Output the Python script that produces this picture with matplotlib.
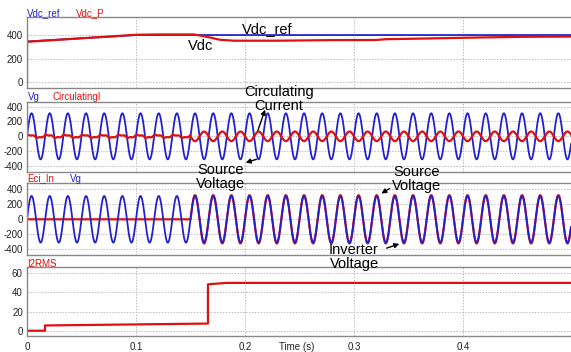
import numpy as np
import matplotlib
matplotlib.use("Agg")
import matplotlib.pyplot as plt

plt.rcParams['font.family'] = ['Liberation Sans', 'DejaVu Sans']
plt.rcParams['axes.unicode_minus'] = False

# ---------------- data ----------------
# Panel 1: DC link voltage (breakpoints)
vdc_ref_t = [0.0, 0.0, 0.1, 0.5]
vdc_ref_v = [0.0, 345.0, 400.0, 400.0]
vdc_p_t = [0.0, 0.0, 0.1, 0.12, 0.153, 0.165, 0.177, 0.19, 0.23, 0.28, 0.32,
           0.33, 0.35, 0.385, 0.42, 0.455, 0.5]
vdc_p_v = [0.0, 343.0, 402.0, 405.0, 405.0, 385.0, 360.0, 352.0, 352.0, 357.0,
           358.0, 365.0, 368.0, 374.0, 380.0, 385.0, 387.0]

# Grid / waveform parameters
grid_freq = 60.0          # Hz
vg_amp = 311.0            # source voltage peak
eci_amp = 322.0           # inverter voltage peak (after connection)
connect_time = 0.15       # s, converter starts
circ_pre_amps = [18.0, 7.0]      # fundamental, 3rd harmonic before connection
circ_pre_phases = [0.6, 1.2]
circ_post_amp = 65.0      # circulating current peak after connection

# Panel 4: I2RMS (breakpoints)
i2rms_t = [0.0, 0.0165, 0.0165, 0.166, 0.166, 0.183, 0.5]
i2rms_v = [0.0, 0.0, 5.5, 7.5, 48.5, 50.0, 50.0]

# Text
panel_labels = [[("Vdc_ref", "#2222cc"), ("Vdc_P", "#e01010")],
                [("Vg", "#2222cc"), ("CirculatingI", "#e01010")],
                [("Eci_In", "#e01010"), ("Vg", "#2222cc")],
                [("I2RMS", "#e01010")]]
xticks = [0, 0.1, 0.2, 0.3, 0.4]
xtick_labels = ["0", "0.1", "0.2", "0.3", "0.4"]

BLUE = "#2222cc"
RED = "#e01010"

W, H = 571, 352
fig = plt.figure(figsize=(W / 100, H / 100), dpi=100)

def px(x, y):
    return (x / W, 1 - y / H)

left_px, right_px = 27, 571
xmax = (right_px - left_px) / 1090.0

panels = [(17.3, 88.0, (-48, 550), [0, 200, 400]),
          (101.7, 171.7, (-477, 467), [-400, -200, 0, 200, 400]),
          (183.3, 255.0, (-476, 480), [-400, -200, 0, 200, 400]),
          (267.3, 336.0, (-5.5, 66.3), [0, 20, 40, 60])]

axes = []
for (top, bot, ylim, yt) in panels:
    ax = fig.add_axes([left_px / W, 1 - bot / H, (right_px - left_px) / W, (bot - top) / H])
    ax.set_xlim(0, xmax)
    ax.set_ylim(*ylim)
    ax.set_yticks(yt)
    ax.set_xticks(xticks)
    ax.grid(True, linestyle=(0, (1.5, 1.5)), color="#bbbbbb", linewidth=0.7)
    ax.tick_params(length=0, labelsize=7, pad=3, colors="#222222")
    for s in ["top", "bottom", "left"]:
        ax.spines[s].set_color("#888888")
        ax.spines[s].set_linewidth(1.0)
    ax.spines["right"].set_visible(False)
    ax.set_xticklabels([])
    axes.append(ax)

t = np.linspace(0, 0.5, 20001)
w = 2 * np.pi * grid_freq
vg = vg_amp * np.sin(w * t)

# Panel 1
ax = axes[0]
ax.plot(vdc_ref_t, vdc_ref_v, color=BLUE, lw=1.3)
ax.plot(vdc_p_t, vdc_p_v, color=RED, lw=1.6)

# Panel 2
ax = axes[1]
circ_pre = (circ_pre_amps[0] * np.sin(w * t + circ_pre_phases[0])
            + circ_pre_amps[1] * np.sin(3 * w * t + circ_pre_phases[1]))
circ_post = -circ_post_amp * np.sin(w * t)
circ = np.where(t < connect_time, circ_pre, circ_post)
ax.plot(t, vg, color=BLUE, lw=1.3)
ax.plot(t, circ, color=RED, lw=1.6)

# Panel 3
ax = axes[2]
eci = np.where(t < connect_time, 0.0, eci_amp * np.sin(w * t))
ax.plot(t, eci, color=RED, lw=1.6)
ax.plot(t, vg, color=BLUE, lw=1.3)

# Panel 4
ax = axes[3]
ax.plot(i2rms_t, i2rms_v, color=RED, lw=1.6)
ax.set_xticklabels(xtick_labels)
ax.tick_params(axis="x", pad=4)

# Panel header labels
header_y = [13.5, 96.5, 178.5, 264.0]
header_x = [[27, 76], [28, 53], [27, 70], [27]]
for lbls, y, xs in zip(panel_labels, header_y, header_x):
    for (txt, col), x in zip(lbls, xs):
        fig.text(*px(x, y), txt, color=col, fontsize=7, va="center", ha="left")

# Axis title
fig.text(*px(297, 346.5), "Time (s)", fontsize=7, ha="center", va="center", color="#222222")

# Annotations
fs = 10.5
fig.text(*px(267, 29), "Vdc_ref", fontsize=fs, ha="center", va="center")
fig.text(*px(201, 46), "Vdc", fontsize=fs, ha="center", va="center")
fig.text(*px(279, 99), "Circulating\nCurrent", fontsize=fs, ha="center", va="center",
         linespacing=0.95)
fig.text(*px(221, 177), "Source\nVoltage", fontsize=fs, ha="center", va="center",
         linespacing=0.95)
fig.text(*px(417, 179), "Source\nVoltage", fontsize=fs, ha="center", va="center",
         linespacing=0.95)
fig.text(*px(354, 257), "Inverter\nVoltage", fontsize=fs, ha="center", va="center",
         linespacing=0.95)

arrow_kw = dict(arrowstyle="-|>", color="black", lw=1.0, mutation_scale=7)
arrows = [((257, 133), (266, 107)),
          ((259, 158.5), (243, 163.5)),
          ((392, 187), (379, 195)),
          ((384, 249), (402, 243))]
for (x0, y0), (x1, y1) in arrows:
    fig.add_artist(matplotlib.patches.FancyArrowPatch(
        px(x0, y0), px(x1, y1), transform=fig.transFigure, **arrow_kw))

fig.savefig("out.png", dpi=100)
